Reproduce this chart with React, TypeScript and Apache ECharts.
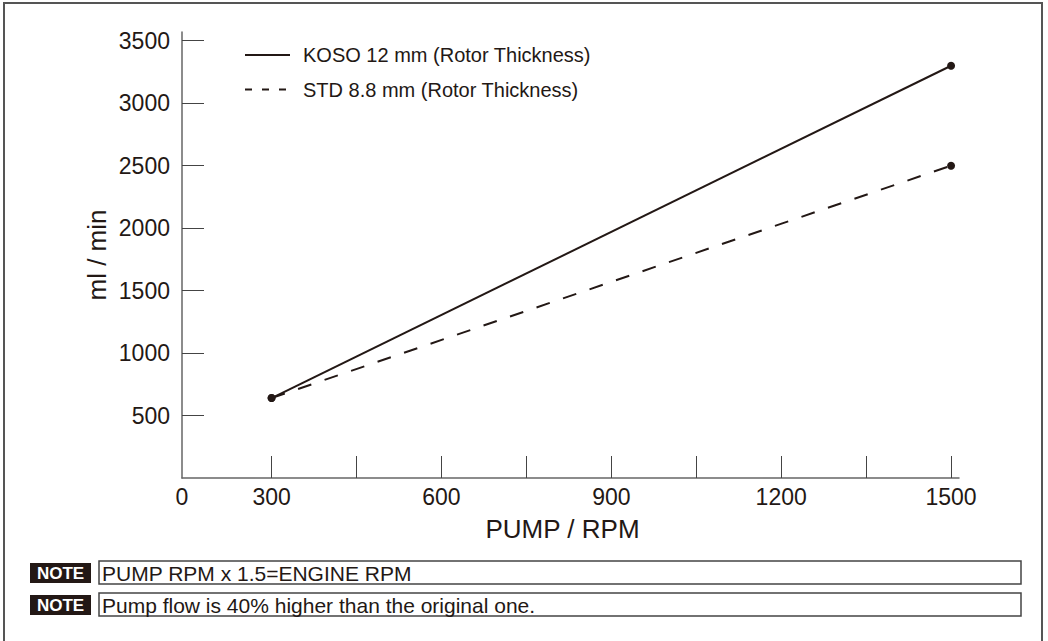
import React, { useEffect, useRef } from "react";
import * as echarts from "echarts";

const rpm = [300, 1500];
const kosoFlow = [640, 3300];
const stdFlow = [640, 2500];
const xTickValues = [300, 450, 600, 750, 900, 1050, 1200, 1350, 1500];
const xLabelValues = [141.8, 300, 600, 900, 1200, 1500];
const yValues = [500, 1000, 1500, 2000, 2500, 3000, 3500];
const seriesNames = ["KOSO 12 mm (Rotor Thickness)", "STD 8.8 mm (Rotor Thickness)"];
const notes = ["PUMP RPM x 1.5=ENGINE RPM", "Pump flow is 40% higher than the original one."];

const INK = "#231815";
const FONT = "'Liberation Sans', Arial, Helvetica, sans-serif";

export default function App() {
  const ref = useRef<HTMLDivElement>(null);
  useEffect(() => {
    document.body.style.margin = "0";
    const chart = echarts.init(ref.current!, null, { renderer: "svg" });
    const noteTops = [561, 593];
    const graphic: any[] = [
      {
        type: "rect",
        shape: { x: 4, y: 3, width: 1038, height: 700 },
        style: { fill: "none", stroke: "#555", lineWidth: 2 },
      },
      {
        type: "line",
        shape: { x1: 245, y1: 55, x2: 290, y2: 55 },
        style: { stroke: INK, lineWidth: 2 },
      },
      {
        type: "line",
        shape: { x1: 245, y1: 89.5, x2: 287, y2: 89.5 },
        style: { stroke: INK, lineWidth: 2, lineDash: [7, 10] },
      },
      {
        type: "text",
        x: 303,
        y: 55,
        style: { text: seriesNames[0], font: `20px ${FONT}`, fill: INK, verticalAlign: "middle" },
      },
      {
        type: "text",
        x: 303,
        y: 89.5,
        style: { text: seriesNames[1], font: `20px ${FONT}`, fill: INK, verticalAlign: "middle" },
      },
    ];
    notes.forEach((n, i) => {
      const t = noteTops[i];
      graphic.push(
        {
          type: "rect",
          shape: { x: 30, y: t + 2, width: 61, height: 20 },
          style: { fill: INK },
        },
        {
          type: "text",
          x: 60.5,
          y: t + 12.5,
          style: {
            text: "NOTE",
            font: `bold 17px ${FONT}`,
            fill: "#fff",
            align: "center",
            verticalAlign: "middle",
          },
        },
        {
          type: "rect",
          shape: { x: 99, y: t, width: 922, height: 23 },
          style: { fill: "none", stroke: "#444", lineWidth: 1.5 },
        },
        {
          type: "text",
          x: 102,
          y: t + 12.5,
          style: { text: n, font: `21px ${FONT}`, fill: INK, verticalAlign: "middle" },
        }
      );
    });

    chart.setOption({
      animation: false,
      textStyle: { fontFamily: FONT },
      grid: { left: 182, right: 89, top: 32, bottom: 163, containLabel: false },
      xAxis: {
        type: "value",
        min: 141.8,
        max: 1514,
        name: "PUMP / RPM",
        nameLocation: "middle",
        nameGap: 38,
        nameMoveOverlap: false,
        nameTextStyle: { fontSize: 26, color: INK, fontFamily: FONT, padding: [0, 16, 0, 0] },
        axisLine: { show: true, lineStyle: { color: "#666", width: 1.5 } },
        axisTick: {
          show: true,
          inside: true,
          length: 22,
          customValues: xTickValues,
          lineStyle: { color: "#444", width: 1 },
        },
        axisLabel: {
          customValues: xLabelValues,
          formatter: (v: number) => (v < 200 ? "0" : String(Math.round(v))),
          fontSize: 23,
          color: INK,
          margin: 7,
          fontFamily: FONT,
        },
        splitLine: { show: false },
      },
      yAxis: {
        type: "value",
        min: 0,
        max: 3570,
        name: "ml / min",
        nameLocation: "middle",
        nameGap: 72,
        nameMoveOverlap: false,
        nameTextStyle: { fontSize: 26, color: INK, fontFamily: FONT },
        axisLine: { show: true, lineStyle: { color: "#666", width: 1.5 } },
        axisTick: {
          show: true,
          inside: true,
          length: 22,
          customValues: yValues,
          lineStyle: { color: "#444", width: 1 },
        },
        axisLabel: {
          customValues: yValues,
          formatter: (v: number) => String(v),
          fontSize: 23,
          color: INK,
          margin: 12,
          fontFamily: FONT,
        },
        splitLine: { show: false },
      },
      series: [
        {
          name: seriesNames[0],
          type: "line",
          data: rpm.map((x, i) => [x, kosoFlow[i]]),
          symbol: "circle",
          symbolSize: 8,
          itemStyle: { color: INK },
          lineStyle: { color: INK, width: 2 },
        },
        {
          name: seriesNames[1],
          type: "line",
          data: rpm.map((x, i) => [x, stdFlow[i]]),
          symbol: "circle",
          symbolSize: 8,
          itemStyle: { color: INK },
          lineStyle: { color: INK, width: 2, type: [14, 14] },
        },
      ],
      graphic,
    });
    return () => chart.dispose();
  }, []);
  return <div ref={ref} style={{ width: 1048, height: 641 }} />;
}
